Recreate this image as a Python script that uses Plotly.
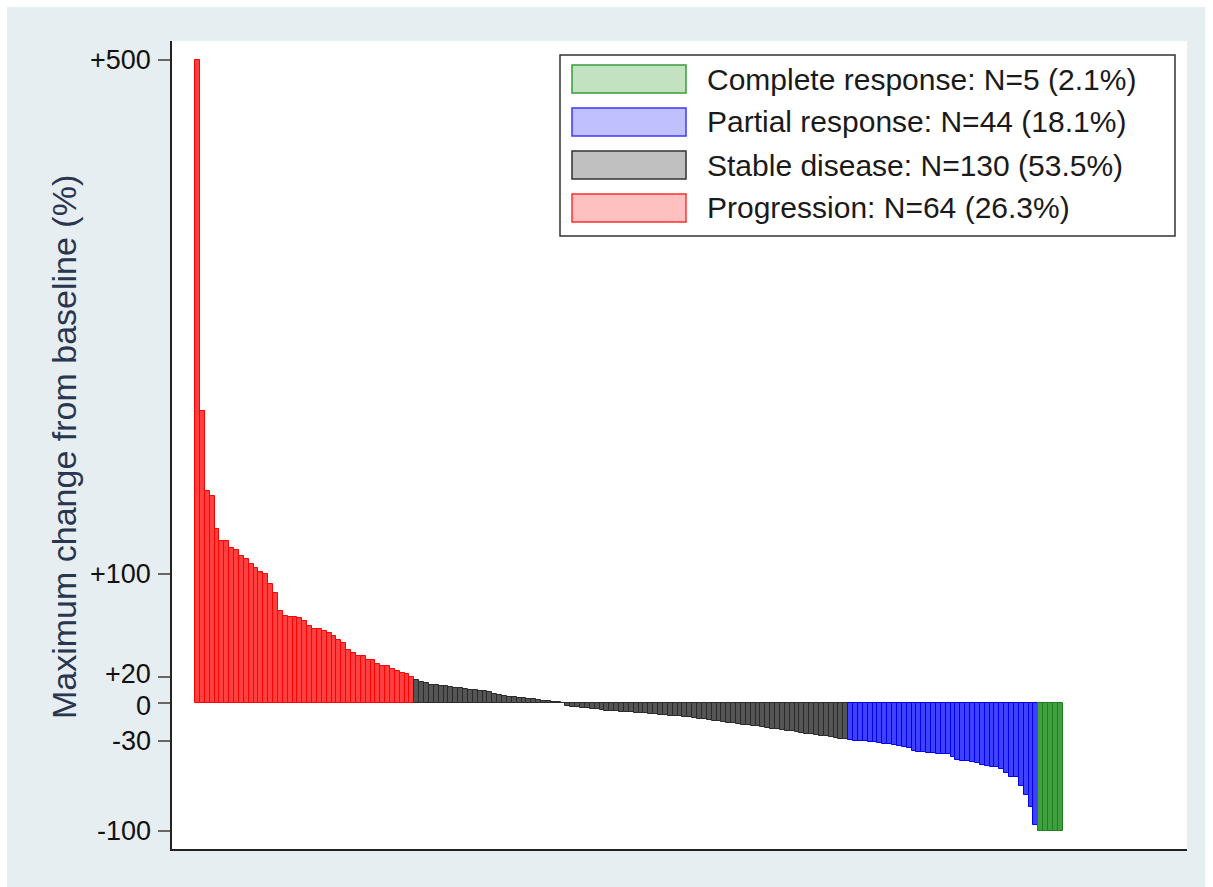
import plotly.graph_objects as go

# ---------------- data ----------------
progression = [500, 227, 165, 160.5, 135, 126, 126, 120, 118.7, 114, 112, 108, 105, 102,
               99.7, 92.4, 85, 71, 67.5, 66.5, 66.5, 66, 63.7, 59.7, 57.4, 57, 56, 54,
               52, 49, 46, 41, 38.6, 36.5, 36.5, 33.4, 33.4, 30, 28.8, 28.8, 26.5, 24.2,
               23.2, 22.2, 20.1]
stable = [17.6, 15.8, 15, 14, 14, 13.2, 12.7, 11.9, 11.4, 11.2, 10.6, 10.1, 9.9, 9.3,
          8.8, 8, 6.8, 6, 4.9, 4.7, 4.1, 3.6, 3.4, 2.9, 2.4, 2.1, 1.6, 1.3, 0.8, 0.3,
          -0.5, -2.3, -3.1, -3.6, -3.9, -4.4, -4.9, -5.2, -5.7, -6.2, -6.5, -6.8, -7.0,
          -7.3, -7.5, -7.8, -8.1, -8.3, -8.6, -9.0, -9.3, -9.8, -10.1, -10.4, -10.8,
          -11.2, -11.6, -12.0, -12.5, -13.0, -13.5, -14.1, -14.6, -15.2, -15.7, -16.2,
          -16.7, -17.2, -17.6, -18.1, -18.6, -19.1, -19.6, -20.2, -20.7, -21.3, -21.9,
          -22.4, -23.0, -23.6, -24.2, -24.8, -25.3, -25.8, -26.4, -27.0, -27.6, -28.1,
          -28.6]
partial = [-29, -29.6, -29.9, -29.9, -30.4, -31, -31.6, -32.2, -32.5, -33, -33.5, -34.3,
           -35.5, -37.4, -38.2, -38.7, -39, -39.4, -39.7, -40, -40, -42.1, -44.6, -45.2,
           -45.5, -46.2, -47.2, -48.5, -49.3, -49.8, -49.8, -51.6, -54.5, -57.6, -58.1,
           -64.9, -71.9, -81, -95.4]
complete = [-100, -100, -100, -100, -100]

legend_labels = ["Complete response: N=5 (2.1%)",
                 "Partial response: N=44 (18.1%)",
                 "Stable disease: N=130 (53.5%)",
                 "Progression: N=64 (26.3%)"]
tick_values = [-100, -30, 0, 20, 100, 500]
tick_labels = ["-100", "-30", "0", "+20", "+100", "+500"]
y_title = "Maximum change from baseline (%)"

# ---------------- styling ----------------
FONT = "Liberation Sans, Arial, sans-serif"
W, H = 1213, 887
PL, PR, PT, PB = 172, 1187, 41, 849  # plot area in pixels
BG = "#e7eef1"

series = [
    (progression, "#ff4040", "#ff0000"),
    (stable, "#555555", "#2a2a2a"),
    (partial, "#4040ff", "#0000f0"),
    (complete, "#40a040", "#1f7f1f"),
]
swatches = [("#c2e2c2", "#3a9a3a"), ("#c0c0ff", "#3a3aff"),
            ("#c0c0c0", "#333333"), ("#ffc0c0", "#ff3030")]
label_shift = {"+20": 3, "0": -3}

def px(x):
    return (x - PL) / (PR - PL)

def py(y):
    return (PB - y) / (PB - PT)

fig = go.Figure()
start = 0
for vals, fill, edge in series:
    xs = list(range(start, start + len(vals)))
    start += len(vals)
    fig.add_trace(go.Bar(x=xs, y=vals, marker=dict(color=fill, line=dict(color=edge, width=1)),
                         showlegend=False))

n_total = start
shapes = []
annotations = []
# white borders of the picture
for x0, x1, y0, y1 in [(0, 7, 0, H), (0, W, 0, 7), (1205, W, 0, H)]:
    shapes.append(dict(type="rect", xref="paper", yref="paper", x0=px(x0), x1=px(x1),
                       y0=py(y1), y1=py(y0), fillcolor="white", line=dict(width=0), layer="above"))

# y tick labels (as text beside the axis ticks)
for v, t in zip(tick_values, tick_labels):
    annotations.append(dict(text=t, xref="paper", yref="y", x=px(153), y=v, xanchor="right",
                            yanchor="middle", showarrow=False, yshift=label_shift.get(t, 0),
                            font=dict(family=FONT, size=27, color="#111111")))

# axis title
annotations.append(dict(text=y_title, xref="paper", yref="paper", x=px(64), y=py(447),
                        xanchor="center", yanchor="middle", textangle=-90, showarrow=False,
                        font=dict(family=FONT, size=34, color="#2a3550")))

# legend box
shapes.append(dict(type="rect", xref="paper", yref="paper", x0=px(560), x1=px(1175), y0=py(236), y1=py(55),
                   fillcolor="white", line=dict(color="#333333", width=1.5), layer="above"))
row_centers = [79, 122, 165, 208]
for (fill, edge), label, yc in zip(swatches, legend_labels, row_centers):
    shapes.append(dict(type="rect", xref="paper", yref="paper", x0=px(572), x1=px(686),
                       y0=py(yc + 14), y1=py(yc - 14), fillcolor=fill,
                       line=dict(color=edge, width=1.5), layer="above"))
    annotations.append(dict(text=label, xref="paper", yref="paper", x=px(705), y=py(yc),
                            xanchor="left", yanchor="middle", showarrow=False,
                            font=dict(family=FONT, size=30, color="#1a1a1a")))

fig.update_layout(
    width=W, height=H,
    margin=dict(l=PL, r=W - PR, t=PT, b=H - PB, pad=0),
    paper_bgcolor=BG, plot_bgcolor="white",
    bargap=0, barmode="overlay",
    font=dict(family=FONT, size=27, color="#111111"),
    shapes=shapes, annotations=annotations,
    xaxis=dict(range=[-5.22, n_total + 25], showticklabels=False, ticks="", showgrid=False,
               zeroline=False, showline=True, linecolor="#222222", linewidth=1.5, mirror=False),
    yaxis=dict(range=[-114, 515], tickvals=tick_values, ticktext=[""] * len(tick_values),
               ticks="outside", ticklen=12, tickwidth=2, tickcolor="#666666", showgrid=False,
               zeroline=False, showline=True, linecolor="#222222", linewidth=1.5,
               automargin=False),
)

fig.write_html("out.html")
